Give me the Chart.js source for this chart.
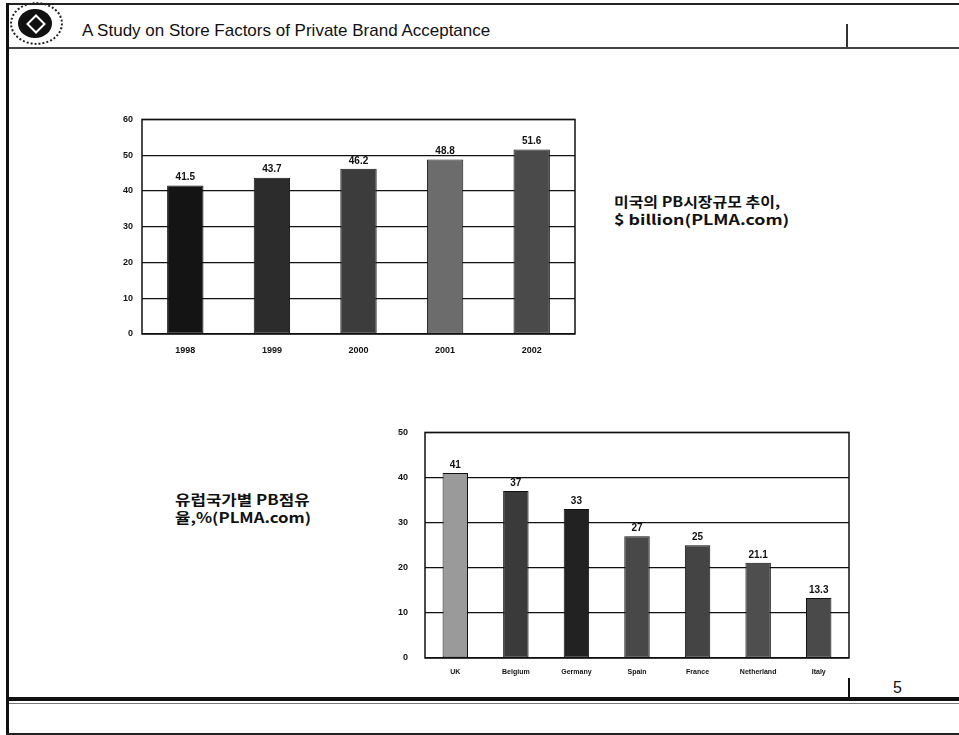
<!DOCTYPE html>
<html>
<head>
<meta charset="utf-8">
<script src="https://cdn.jsdelivr.net/npm/chart.js@4.4.1/dist/chart.umd.min.js"></script>
<style>
    body { margin: 0; width: 959px; height: 735px; background: #fff; position: relative; overflow: hidden; font-family: Arial, "Liberation Sans", sans-serif; }
    .abs { position: absolute; }
    #logo { left: 10px; top: 2px; width: 49px; height: 39px; border: 2px dotted #222; border-radius: 50%; }
    #logoIn { left: 18px; top: 9px; width: 34px; height: 29px; border-radius: 50%; background: #111; }
    #logoMark { left: 29px; top: 17px; width: 10px; height: 10px; border: 2px solid #fff; transform: rotate(45deg); }
    #title { left: 82px; top: 21px; font-size: 17px; color: #111; }
    .note { font-family: "Noto Sans CJK KR", sans-serif; font-weight: bold; font-size: 14px; line-height: 18px; color: #111; transform-origin: left top; white-space: nowrap; }
</style>
</head>
<body>
<div class="abs" style="left:7px;top:3px;width:952px;height:2px;background:#222"></div>
<div class="abs" style="left:6px;top:3px;width:3px;height:732px;background:#111"></div>
<div class="abs" id="logo"></div>
<div class="abs" id="logoIn"></div>
<div class="abs" id="logoMark"></div>
<div class="abs" id="title">A Study on Store Factors of Private Brand Acceptance</div>
<div class="abs" style="left:9px;top:47px;width:950px;height:2px;background:#444"></div>
<div class="abs" style="left:846px;top:24px;width:2px;height:23px;background:#333"></div>

<div class="abs" style="left:100px;top:105px;width:490px;height:260px"><canvas id="usChart"></canvas></div>
<div class="abs note" style="left:614px;top:192px;transform:scaleX(1.14)">미국의 PB시장규모 추이,</div>
<div class="abs note" style="left:614px;top:210px;transform:scaleX(1.27)">$ billion(PLMA.com)</div>

<div class="abs note" style="left:175px;top:490px;transform:scaleX(1.2)">유럽국가별 PB점유</div>
<div class="abs note" style="left:175px;top:508px;transform:scaleX(1.2)">율,%(PLMA.com)</div>
<div class="abs" style="left:380px;top:410px;width:480px;height:280px"><canvas id="euChart"></canvas></div>

<div class="abs" style="left:893px;top:679px;font-size:16px;color:#111">5</div>
<div class="abs" style="left:848px;top:678px;width:2px;height:20px;background:#111"></div>
<div class="abs" style="left:9px;top:697px;width:950px;height:4px;background:#111"></div>
<div class="abs" style="left:9px;top:703px;width:950px;height:1px;background:#777"></div>
<div class="abs" style="left:6px;top:733px;width:953px;height:2px;background:#222"></div>

<script>
var usYears = ['1998', '1999', '2000', '2001', '2002'];
var usValues = [41.5, 43.7, 46.2, 48.8, 51.6];
var usLabels = ['41.5', '43.7', '46.2', '48.8', '51.6'];
var usTicks = [0, 10, 20, 30, 40, 50, 60];

var euCountries = ['UK', 'Belgium', 'Germany', 'Spain', 'France', 'Netherland', 'Italy'];
var euValues = [41, 37, 33, 27, 25, 21.1, 13.3];
var euLabels = ['41', '37', '33', '27', '25', '21.1', '13.3'];
var euTicks = [0, 10, 20, 30, 40, 50];

// box round the plot area and value labels on top of the bars
var framePlugin = {
    id: 'frame',
    afterDatasetsDraw: function (chart) {
        var a = chart.chartArea, ctx = chart.ctx;
        ctx.save();
        ctx.strokeStyle = '#111';
        ctx.lineWidth = 1.5;
        ctx.strokeRect(a.left, a.top, a.right - a.left, a.bottom - a.top);
        var labels = chart.options.plugins.frame.labels;
        ctx.fillStyle = '#111';
        ctx.font = 'bold 10px Arial';
        ctx.textAlign = 'center';
        ctx.textBaseline = 'bottom';
        chart.getDatasetMeta(0).data.forEach(function (bar, i) {
            ctx.fillText(labels[i], bar.x, bar.y - 3);
        });
        ctx.restore();
    }
};

function makeChart(id, cats, values, labels, ticks, colors, box, xFont) {
    var ctx = document.getElementById(id).getContext('2d');
    return new Chart(ctx, {
        type: 'bar',
        data: {
            labels: cats,
            datasets: [{
                data: values,
                backgroundColor: colors,
                borderColor: '#111',
                borderWidth: 1,
                borderSkipped: false,
                barPercentage: box.bar,
                categoryPercentage: 1
            }]
        },
        plugins: [framePlugin],
        options: {
            responsive: true,
            maintainAspectRatio: false,
            animation: false,
            layout: { padding: { top: box.top, right: box.right, left: 0, bottom: 0 } },
            plugins: {
                legend: { display: false },
                tooltip: { enabled: false },
                frame: { labels: labels }
            },
            scales: {
                x: {
                    grid: { display: false, drawTicks: false },
                    border: { display: false },
                    ticks: { color: '#111', font: xFont, padding: box.xPad, maxRotation: 0 },
                    afterFit: function (s) { s.height = box.xh; }
                },
                y: {
                    min: ticks[0],
                    max: ticks[ticks.length - 1],
                    afterBuildTicks: function (s) { s.ticks = ticks.map(function (v) { return { value: v }; }); },
                    grid: { color: '#111', lineWidth: 1.2, drawTicks: false },
                    border: { display: false },
                    ticks: { color: '#111', font: { size: 9, weight: 'bold', family: 'Arial' }, padding: box.yPad },
                    afterFit: function (s) { s.width = box.yw; }
                }
            }
        }
    });
}

makeChart('usChart', usYears, usValues, usLabels, usTicks,
    ['#141414', '#2c2c2c', '#3c3c3c', '#6c6c6c', '#4a4a4a'],
    { top: 14, right: 15, xh: 31, yw: 42, bar: 0.42, xPad: 11, yPad: 9 },
    { size: 9, weight: 'bold', family: 'Arial' });

makeChart('euChart', euCountries, euValues, euLabels, euTicks,
    ['#9a9a9a', '#3a3a3a', '#222222', '#484848', '#444444', '#4e4e4e', '#4a4a4a'],
    { top: 12, right: 11, xh: 32, yw: 45, bar: 0.42, xPad: 10, yPad: 17 },
    { size: 7, weight: 'bold', family: 'Arial' });
</script>
</body>
</html>
